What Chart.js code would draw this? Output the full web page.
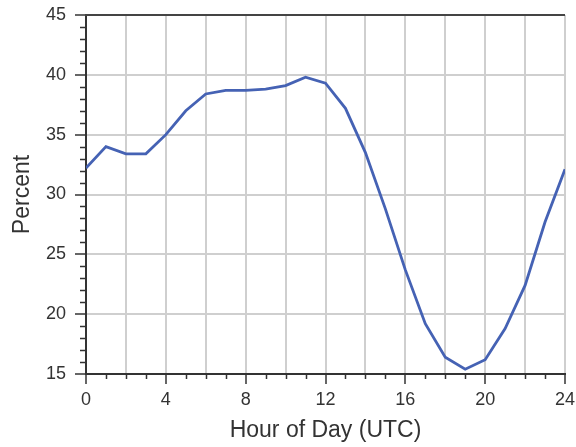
<!DOCTYPE html>
<html>
<head>
<meta charset="utf-8">
<script src="https://cdn.jsdelivr.net/npm/chart.js@4"></script>
<style>
  html, body { margin: 0; padding: 0; background: #ffffff; }
  #wrap { width: 576px; height: 447px; }
</style>
</head>
<body>
<div id="wrap"><canvas id="chart"></canvas></div>
<script>
// Hourly share (percent) by hour of day, UTC
const hours = [0, 1, 2, 3, 4, 5, 6, 7, 8, 9, 10, 11, 12, 13, 14, 15, 16, 17, 18, 19, 20, 21, 22, 23, 24];
const percent = [32.2, 34.0, 33.4, 33.4, 35.0, 37.0, 38.4, 38.7, 38.7, 38.8, 39.1, 39.8, 39.3, 37.2, 33.5, 28.8, 23.7, 19.2, 16.4, 15.4, 16.2, 18.8, 22.4, 27.7, 32.1];

// Labelled ticks on each axis
const xMajorTicks = [0, 4, 8, 12, 16, 20, 24];
const yMajorTicks = [15, 20, 25, 30, 35, 40, 45];

const axisColor = '#333333';
const gridColor = '#cfcfcf';
const lineColor = '#4562b4';
const textColor = '#333333';
const fontFamily = '"Liberation Sans", Arial, sans-serif';

// Short unlabelled ticks at every whole unit, plus the top frame line
const minorTicks = {
  id: 'minorTicks',
  afterDraw(chart) {
    const { ctx, chartArea, scales: { x, y } } = chart;
    ctx.save();
    ctx.strokeStyle = axisColor;
    ctx.lineWidth = 1.5;
    ctx.beginPath();
    for (let v = Math.ceil(x.min); v <= x.max; v++) {
      if (xMajorTicks.includes(v)) continue;
      const px = Math.round(x.getPixelForValue(v)) + 0.5;
      ctx.moveTo(px, chartArea.bottom);
      ctx.lineTo(px, chartArea.bottom + 5);
    }
    for (let v = Math.ceil(y.min); v <= y.max; v++) {
      if (yMajorTicks.includes(v)) continue;
      const py = Math.round(y.getPixelForValue(v)) + 0.5;
      ctx.moveTo(chartArea.left - 6, py);
      ctx.lineTo(chartArea.left, py);
    }
    ctx.stroke();
    ctx.lineWidth = 2;
    ctx.strokeStyle = '#444444';
    ctx.beginPath();
    ctx.moveTo(chartArea.left - 1, chartArea.top);
    ctx.lineTo(chartArea.right, chartArea.top);
    ctx.stroke();
    ctx.restore();
  }
};

new Chart(document.getElementById('chart'), {
  type: 'line',
  data: {
    datasets: [{
      data: hours.map((h, i) => ({ x: h, y: percent[i] })),
      borderColor: lineColor,
      borderWidth: 2.8,
      pointRadius: 0,
      tension: 0,
      fill: false
    }]
  },
  options: {
    responsive: true,
    maintainAspectRatio: false,
    animation: false,
    events: [],
    layout: { padding: { top: 15, right: 11, left: 0, bottom: 0 } },
    plugins: {
      legend: { display: false },
      tooltip: { enabled: false }
    },
    scales: {
      x: {
        type: 'linear',
        min: 0,
        max: 24,
        afterFit: (scale) => {
          scale.height = 73;
          scale.paddingLeft = 0;
          scale.paddingRight = 0;
        },
        ticks: {
          stepSize: 2,
          autoSkip: false,
          maxRotation: 0,
          padding: 5,
          color: textColor,
          font: { family: fontFamily, size: 18 },
          callback: (v) => (xMajorTicks.includes(v) ? String(v) : '')
        },
        grid: {
          color: gridColor,
          lineWidth: 2,
          tickLength: 10,
          tickWidth: 1.5,
          tickColor: (ctx) => (ctx.tick && xMajorTicks.includes(ctx.tick.value) ? axisColor : 'rgba(0,0,0,0)')
        },
        border: { color: axisColor, width: 2 },
        title: {
          display: true,
          text: 'Hour of Day (UTC)',
          color: textColor,
          font: { family: fontFamily, size: 23, lineHeight: 1 },
          padding: { top: 0, bottom: 5 }
        }
      },
      y: {
        min: 15,
        max: 45,
        afterFit: (scale) => {
          scale.width = 86;
          scale.paddingTop = 0;
          scale.paddingBottom = 0;
        },
        ticks: {
          stepSize: 5,
          padding: 9,
          color: textColor,
          font: { family: fontFamily, size: 18 },
          callback: (v) => (yMajorTicks.includes(v) ? String(v) : '')
        },
        grid: {
          color: gridColor,
          lineWidth: 2,
          tickLength: 11,
          tickWidth: 1.5,
          tickColor: axisColor
        },
        border: { color: axisColor, width: 2 },
        title: {
          display: true,
          text: 'Percent',
          color: textColor,
          font: { family: fontFamily, size: 23, lineHeight: 1 },
          padding: { top: 11, bottom: 0 }
        }
      }
    }
  },
  plugins: [minorTicks]
});
</script>
</body>
</html>
